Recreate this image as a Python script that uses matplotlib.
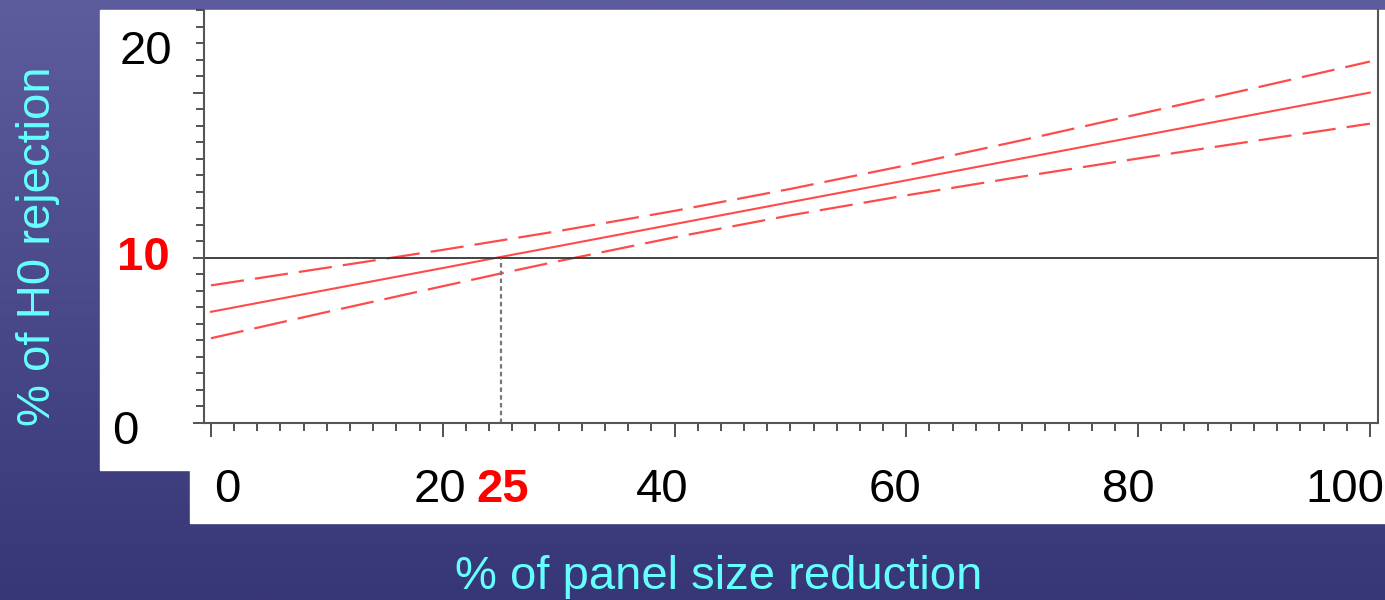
import numpy as np
import matplotlib.pyplot as plt
from matplotlib.patches import Rectangle

plt.rcParams['font.family'] = ['Liberation Sans', 'DejaVu Sans']

# % of panel size reduction vs % of H0 rejection (fit and confidence band)
reduction = [0, 10, 20, 25, 30, 40, 50, 60, 70, 80, 90, 100]
rejection_fit = [6.73, 8.06, 9.38, 10.05, 10.71, 12.04, 13.37, 14.69, 16.02, 17.35, 18.67, 20.00]
rejection_upper = [8.33, 9.40, 10.48, 11.05, 11.62, 12.84, 14.17, 15.60, 17.12, 18.69, 20.27, 21.88]
rejection_lower = [5.13, 6.72, 8.28, 9.05, 9.80, 11.24, 12.57, 13.78, 14.92, 16.01, 17.07, 18.12]

threshold = 10
crossing = 25

x_tick_values = [0, 20, 40, 60, 80, 100]
y_tick_values = [0, 20]

# label nudges in pixels (the slide's text boxes are not exactly on the ticks)
x_label_shift = [16, -3, -12, -11, -10, -25]
y_label_shift = [(-79, -9), (-58, 41)]

W, H = 1385, 600
fig = plt.figure(figsize=(W / 100, H / 100), dpi=100)

# slide background: purple gradient with white panels
bg = fig.add_axes([0, 0, 1, 1], zorder=-10)
top = np.array([93, 92, 156]) / 255
bottom = np.array([55, 54, 118]) / 255
t = np.linspace(0, 1, 256)[:, None, None]
bg.imshow(top + (bottom - top) * t, aspect='auto', extent=[0, 1, 0, 1])
bg.add_patch(Rectangle((100 / W, 1 - 470 / H), 1285 / W, 460 / H, color='white'))
bg.add_patch(Rectangle((190 / W, 1 - 523 / H), 1195 / W, 60 / H, color='white'))
bg.set_xlim(0, 1)
bg.set_ylim(0, 1)
bg.axis('off')

ax = fig.add_axes([204 / W, 1 - 423 / H, 1174 / W, 413 / H])
ax.set_facecolor('white')

red = '#ff4a4a'
ax.plot(reduction, rejection_fit, color=red, lw=1.5)
ax.plot(reduction, rejection_upper, color=red, lw=1.6, dashes=(15, 5))
ax.plot(reduction, rejection_lower, color=red, lw=1.6, dashes=(15, 5))

ax.axhline(threshold, color='#333333', lw=1.3)
ax.plot([crossing, crossing], [0, threshold], color='#777777', lw=1.6, dashes=(2, 1.5))

ax.set_xlim(-0.6, 100.7)
ax.set_ylim(0, 25)

for side in ['left', 'right', 'bottom']:
    ax.spines[side].set_color('#555555')
    ax.spines[side].set_linewidth(1.5)
ax.spines['top'].set_visible(False)

ax.set_xticks(x_tick_values)
ax.set_xticks(np.arange(0, 101, 2), minor=True)
ax.set_yticks([0, 10, 20])
ax.set_yticks(np.arange(0, 26, 1), minor=True)
ax.tick_params(axis='both', which='both', direction='out', color='#444444', width=1.3,
               labelbottom=False, labelleft=False)
ax.tick_params(axis='x', which='major', length=10)
ax.tick_params(axis='x', which='minor', length=6)
ax.tick_params(axis='y', which='major', length=8)
ax.tick_params(axis='y', which='minor', length=5.5)

px = 0.72  # points per pixel at dpi 100
for val, dx in zip(x_tick_values, x_label_shift):
    ax.annotate(str(val), xy=(val, 0), xytext=(dx * px, -67 * px), textcoords='offset points',
                ha='center', va='center', fontsize=34, color='black', annotation_clip=False)
ax.annotate(str(crossing), xy=(crossing, 0), xytext=(2 * px, -67 * px), textcoords='offset points',
            ha='center', va='center', fontsize=34, color='red', fontweight='bold', annotation_clip=False)

for val, (dx, dy) in zip(y_tick_values, y_label_shift):
    ax.annotate(str(val), xy=(-0.6, val), xytext=(dx * px, dy * px), textcoords='offset points',
                ha='center', va='center', fontsize=34, color='black', annotation_clip=False)
ax.annotate(str(threshold), xy=(-0.6, threshold), xytext=(-61 * px, 0), textcoords='offset points',
            ha='center', va='center', fontsize=34, color='red', fontweight='bold', annotation_clip=False)

cyan = '#66ffff'
fig.text(38 / W, 1 - 246 / H, '% of H0 rejection', rotation=90, color=cyan, fontsize=34,
         ha='center', va='center')
fig.text(719 / W, 1 - 577 / H, '% of panel size reduction', color=cyan, fontsize=34,
         ha='center', va='center')

fig.savefig('out.png', dpi=100)
